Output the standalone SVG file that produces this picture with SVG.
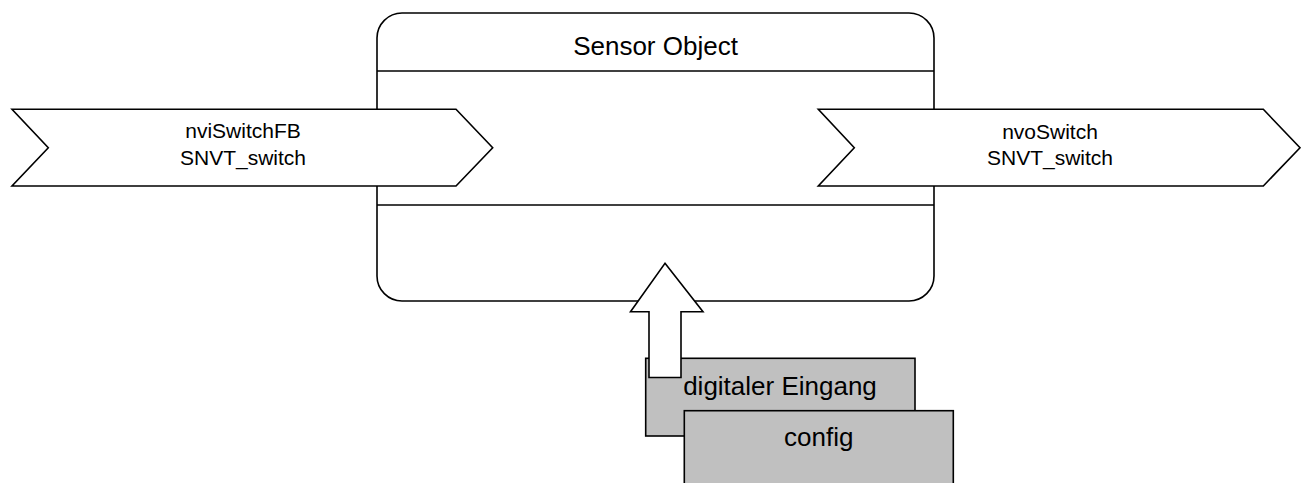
<svg xmlns="http://www.w3.org/2000/svg" width="1306" height="483" viewBox="0 0 1306 483">
  <style>
    .shape { fill: #ffffff; stroke: #000000; stroke-width: 1.6; stroke-linejoin: miter; }
    .block { fill: #c0c0c0; stroke: #000000; stroke-width: 1.6; }
    .line { fill: none; stroke: #000000; stroke-width: 1.6; }
    .label { font-family: "Liberation Sans", Arial, sans-serif; fill: #000000; text-anchor: middle; }
    .big { font-size: 26px; }
    .small { font-size: 21px; }
  </style>

  <!-- Function block -->
  <g id="sensor-object">
    <rect class="shape" x="377" y="13" width="557" height="288" rx="25" ry="25"/>
    <line class="line" x1="377" y1="71" x2="934" y2="71"/>
    <line class="line" x1="377" y1="205" x2="934" y2="205"/>
    <text class="label big" x="655.5" y="55">Sensor Object</text>
  </g>

  <!-- Input network variable -->
  <g id="nviSwitchFB">
    <polygon class="shape" points="12,109.3 456,109.3 492.7,147.7 456,186 12,186 48.3,147.7"/>
    <text class="label small" x="243" y="137.5">nviSwitchFB</text>
    <text class="label small" x="243" y="164.5">SNVT_switch</text>
  </g>

  <!-- Output network variable -->
  <g id="nvoSwitch">
    <polygon class="shape" points="818.3,109.3 1263.3,109.3 1300,147.7 1263.3,186 818.3,186 854.3,147.7"/>
    <text class="label small" x="1050" y="138.5">nvoSwitch</text>
    <text class="label small" x="1050" y="165">SNVT_switch</text>
  </g>

  <!-- Hardware input -->
  <g id="digitaler-eingang">
    <rect class="block" x="645.7" y="358.3" width="269.3" height="77.7"/>
    <text class="label big" x="780" y="395">digitaler Eingang</text>
  </g>

  <!-- Input arrow into the block -->
  <g id="connectors">
    <polygon class="shape" points="665,263.3 703,311.7 681,311.7 681,377.5 649,377.5 649,311.7 630.5,311.7"/>
  </g>

  <!-- Configuration -->
  <g id="config">
    <rect class="block" x="684.3" y="410.7" width="269" height="90"/>
    <text class="label big" x="818.8" y="446">config</text>
  </g>
</svg>
